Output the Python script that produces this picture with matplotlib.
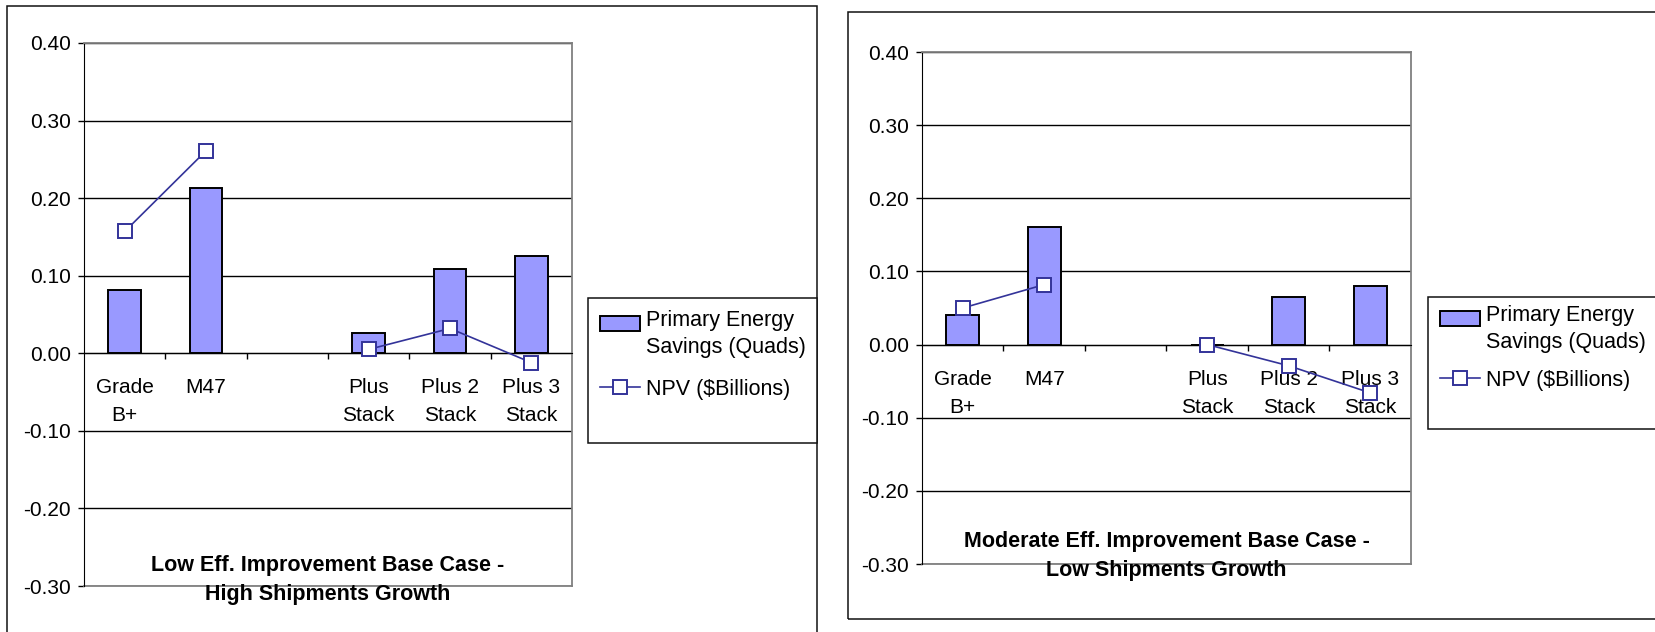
import matplotlib.pyplot as plt
import numpy as np
from matplotlib.legend_handler import HandlerPatch
from matplotlib.patches import Rectangle
from matplotlib.ticker import FormatStrFormatter, FixedLocator

plt.rcParams["font.family"] = ["Liberation Sans", "DejaVu Sans"]
plt.rcParams["axes.unicode_minus"] = False

W, H = 1656, 632

categories = ["Grade\nB+", "M47", "", "Plus\nStack", "Plus 2\nStack", "Plus 3\nStack"]

# Low efficiency improvement base case, high shipments growth
low_savings = [0.081, 0.213, np.nan, 0.026, 0.109, 0.125]
low_npv = [0.157, 0.261, np.nan, 0.005, 0.032, -0.012]

# Moderate efficiency improvement base case, low shipments growth
mod_savings = [0.040, 0.161, np.nan, 0.0, 0.065, 0.080]
mod_npv = [0.050, 0.082, np.nan, 0.0, -0.029, -0.066]

y_ticks = [-0.30, -0.20, -0.10, 0.00, 0.10, 0.20, 0.30, 0.40]

BAR_COLOR = "#9999FF"
LINE_COLOR = "#333399"
BORDER_GRAY = "#808080"


def px_box(x0, y0, x1, y1):
    """Pixel box (top-left origin) -> figure-fraction [left, bottom, w, h]."""
    return [x0 / W, 1 - y1 / H, (x1 - x0) / W, (y1 - y0) / H]


def raised_patch(legend, orig_handle, xdescent, ydescent, width, height,
                 fontsize):
    # keep the swatch next to the first line of a two-line label
    return Rectangle((-xdescent, -ydescent + 8), width, height)


def draw_panel(ax, savings, npv, title, title_y):
    x = np.arange(len(categories))

    bars = ax.bar(x, savings, width=0.4, color=BAR_COLOR, edgecolor="black",
                  linewidth=1.4, zorder=3)
    line, = ax.plot(x, npv, color=LINE_COLOR, linewidth=1.2, marker="s",
                    markersize=9.5, markerfacecolor="white",
                    markeredgecolor=LINE_COLOR, markeredgewidth=1.4,
                    zorder=4, clip_on=False)

    ax.set_xlim(-0.5, len(categories) - 0.5)
    ax.set_ylim(-0.30, 0.40)
    ax.set_yticks(y_ticks)
    ax.yaxis.set_major_formatter(FormatStrFormatter("%.2f"))
    ax.yaxis.grid(True, color="black", linewidth=1.0)
    ax.set_axisbelow(True)

    # category axis sits on the zero line, ticks between categories
    ax.spines["bottom"].set_position(("data", 0))
    ax.spines["bottom"].set_color("black")
    ax.spines["left"].set_color("black")
    for side in ("top", "right"):
        ax.spines[side].set_color(BORDER_GRAY)
        ax.spines[side].set_linewidth(1.3)
    ax.plot([0, 1], [0, 0], transform=ax.transAxes, color=BORDER_GRAY,
            linewidth=1.3, clip_on=False, zorder=2.5)

    ax.xaxis.set_major_locator(FixedLocator(x[:-1] + 0.5))
    ax.xaxis.set_minor_locator(FixedLocator(x))
    ax.set_xticklabels([], minor=False)
    ax.set_xticklabels(categories, minor=True, linespacing=1.6)
    ax.tick_params(axis="x", which="major", direction="out", length=4.3,
                   width=1.0)
    ax.tick_params(axis="x", which="minor", length=0, pad=18, labelsize=15)
    ax.tick_params(axis="y", direction="out", length=4.3, width=1.0,
                   pad=5, labelsize=15)

    ax.text(0.5, title_y, title, transform=ax.transAxes, ha="center",
            va="center", fontsize=15.5, fontweight="bold", linespacing=1.5,
            zorder=6)
    return bars, line


fig = plt.figure(figsize=(W / 100, H / 100), dpi=100)

# outer chart frames
fig.add_artist(Rectangle((7 / W, -0.05), (817 - 7) / W, 1.05 - 6 / H,
                         transform=fig.transFigure, fill=False,
                         edgecolor="#111111", linewidth=1.1))
fig.add_artist(Rectangle((848 / W, 1 - 619 / H), (1700 - 848) / W,
                         (619 - 12) / H, transform=fig.transFigure,
                         fill=False, edgecolor="#111111", linewidth=1.1))

ax_low = fig.add_axes(px_box(84, 43, 572, 586))
ax_mod = fig.add_axes(px_box(922, 52, 1411, 564))

bars, line = draw_panel(ax_low, low_savings, low_npv,
                        "Low Eff. Improvement Base Case -\nHigh Shipments Growth",
                        0.011)
draw_panel(ax_mod, mod_savings, mod_npv,
           "Moderate Eff. Improvement Base Case -\nLow Shipments Growth",
           0.015)

bar_handle = bars.patches[0]
legend_labels = ["Primary Energy\nSavings (Quads)", "NPV ($Billions)"]
# box in pixels, top inset, gap between entries
legend_boxes = [((588, 298, 817, 443), 12, 0.95),
                ((1428, 297, 1700, 429), 8, 0.75)]

for (bx0, by0, bx1, by1), inset, entry_gap in legend_boxes:
    fig.add_artist(Rectangle((bx0 / W, 1 - by1 / H), (bx1 - bx0) / W,
                             (by1 - by0) / H, transform=fig.transFigure,
                             facecolor="white", edgecolor="#111111",
                             linewidth=1.1, zorder=5))
    leg = fig.legend([bar_handle, line], legend_labels, loc="upper left",
                     bbox_to_anchor=((bx0 + 12) / W, 1 - (by0 + inset) / H),
                     frameon=False, fontsize=15.5, handlelength=1.85,
                     handleheight=0.75, handletextpad=0.3,
                     labelspacing=entry_gap, borderpad=0, borderaxespad=0,
                     handler_map={bar_handle: HandlerPatch(patch_func=raised_patch)})
    for text in leg.get_texts():
        text.set_linespacing(1.4)
    leg.set_zorder(6)

fig.savefig("out.png", dpi=100)
